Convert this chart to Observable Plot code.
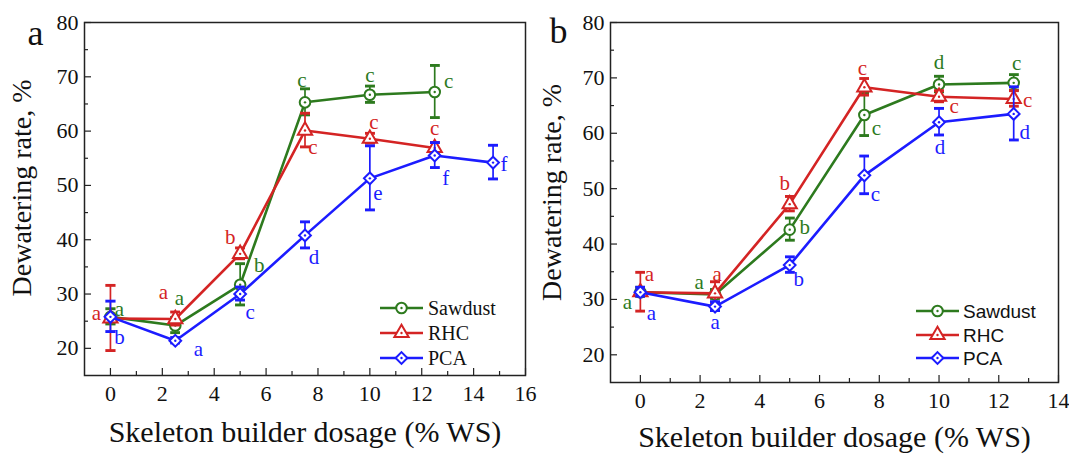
<!DOCTYPE html>
<html><head><meta charset="utf-8">
<script src="https://cdn.jsdelivr.net/npm/d3@7"></script>
<script src="https://cdn.jsdelivr.net/npm/@observablehq/plot@0.6"></script>
<style>
body{margin:0;background:#fff;}
#wrap{position:relative;width:1069px;height:454px;overflow:hidden;background:#fff;}
#wrap svg{position:absolute;top:0;overflow:visible;}
</style></head><body><div id="wrap"></div>
<script>
// ---------- shared ----------
const seriesNames = ["Sawdust", "RHC", "PCA"];
const seriesColors = ["#2d7a1e", "#d42424", "#1c1cff"];
const seriesSymbols = ["circle", "triangle", "diamond2"];
const yMajor = [20, 30, 40, 50, 60, 70, 80];
const yMinor = [25, 35, 45, 55, 65, 75];
const yTitle = "Dewatering rate, %";
const xTitle = "Skeleton builder dosage (% WS)";

// ---------- panel a ----------
const aDose = [0, 2.5, 5, 7.5, 10, 12.5];
const aDosePCA = [0, 2.5, 5, 7.5, 10, 12.5, 14.75];
const aSawdust = [25.8, 24.2, 31.7, 65.3, 66.7, 67.2];
const aSawdustErr = [1.4, 1.4, 3.8, 2.4, 1.5, 4.8];
const aRHC = [25.5, 25.4, 37.4, 60.1, 58.6, 56.9];
const aRHCErr = [6.0, 1.2, 1.0, 3.1, 0.9, 0.9];
const aPCA = [25.8, 21.4, 30.0, 40.8, 51.3, 55.5, 54.2];
const aPCAErr = [2.8, 0.5, 1.2, 2.4, 5.9, 2.3, 3.1];
const aLetSawdust = ["a", "a", "b", "c", "c", "c"];
const aLetRHC = ["a", "a", "b", "c", "c", "c"];
const aLetPCA = ["b", "a", "c", "d", "e", "f", "f"];
const aXMajor = [0, 2, 4, 6, 8, 10, 12, 14, 16];
const aXMinor = [1, 3, 5, 7, 9, 11, 13, 15];
// label offsets (px) relative to each point
const aOffSawdust = [[9,-8],[4,-27],[19,-20],[-3,-22],[0,-19],[14,-11]];
const aOffRHC = [[-14,-5],[-12,-27],[-10,-17],[8,17],[4,-16],[0,-20]];
const aOffPCA = [[9,20],[23,9],[10,18],[9,22],[8,15],[11,23],[11,2]];

// ---------- panel b ----------
const bDose = [0, 2.5, 5, 7.5, 10, 12.5];
const bSawdust = [31.3, 30.9, 42.6, 63.3, 68.8, 69.1];
const bSawdustErr = [0.8, 0.8, 2.0, 3.8, 1.4, 1.4];
const bRHC = [31.3, 31.1, 47.2, 68.3, 66.6, 66.2];
const bRHCErr = [3.5, 2.0, 1.3, 1.5, 1.0, 1.4];
const bPCA = [31.3, 28.7, 36.2, 52.4, 62.0, 63.5];
const bPCAErr = [0.8, 0.8, 1.4, 3.4, 2.4, 4.8];
const bLetSawdust = ["a", "a", "b", "c", "d", "c"];
const bLetRHC = ["a", "a", "b", "c", "c", "c"];
const bLetPCA = ["a", "a", "b", "c", "d", "d"];
const bXMajor = [0, 2, 4, 6, 8, 10, 12, 14];
const bXMinor = [1, 3, 5, 7, 9, 11, 13];
const bOffSawdust = [[-13,10],[-16,-12],[15,-2],[12,13],[0,-22],[3,-20]];
const bOffRHC = [[9,-18],[2,-19],[-5,-21],[-2,-19],[15,10],[14,1]];
const bOffPCA = [[11,21],[0,16],[9,14],[11,19],[1,25],[11,18]];

function rowsOf(series, xs, ys, errs, lets, offs) {
  return xs.map((x, i) => ({series, x, y: ys[i], e: errs[i], letter: lets[i], dx: offs[i][0], dy: offs[i][1]}));
}

const serif = "'Liberation Serif', 'Times New Roman', serif";
const sans = "'Liberation Sans', Arial, sans-serif";

function panel(cfg) {
  const {rows, width, height, m, xDomain, xMajor, xMinor, letter, letterDx, letterDy, yDx, yDy, xDy} = cfg;
  const plotW = width - m.left - m.right;
  const plotH = height - m.top - m.bottom;
  const marks = [];
  // ticks (inward)
  marks.push(Plot.tickX(xMajor, {x: d => d, insetTop: plotH - 7, stroke: "#222", strokeWidth: 1.2}));
  marks.push(Plot.tickX(xMinor, {x: d => d, insetTop: plotH - 4, stroke: "#222", strokeWidth: 1.2}));
  marks.push(Plot.tickY(yMajor, {y: d => d, insetRight: plotW - 7, stroke: "#222", strokeWidth: 1.2}));
  marks.push(Plot.tickY(yMinor, {y: d => d, insetRight: plotW - 4, stroke: "#222", strokeWidth: 1.2}));
  marks.push(Plot.axisX({ticks: xMajor, tickSize: 0, tickPadding: 10, fontSize: 22, fontFamily: serif, label: null, fill: "#111"}));
  marks.push(Plot.axisY({ticks: yMajor, tickSize: 0, tickPadding: 6, fontSize: 22, fontFamily: serif, label: null, fill: "#111"}));
  // series
  for (const name of seriesNames) {
    const r = rows.filter(d => d.series === name);
    marks.push(Plot.line(r, {x: "x", y: "y", stroke: "series", strokeWidth: 2.6}));
    marks.push(Plot.ruleX(r, {x: "x", y1: d => d.y - d.e, y2: d => d.y + d.e, stroke: "series", strokeWidth: 1.7, markerStart: "tick", markerEnd: "tick"}));
    marks.push(Plot.dot(r, {x: "x", y: "y", symbol: "series", stroke: "series", fill: "white", r: 5.3, strokeWidth: 2}));
    marks.push(Plot.dot(r, {x: "x", y: "y", fill: "series", r: 1.2}));
  }
  for (const d of rows) {
    marks.push(Plot.text([d], {x: "x", y: "y", text: "letter", fill: "series", dx: d.dx, dy: d.dy, fontSize: 21, fontFamily: serif}));
  }
  marks.push(Plot.frame({stroke: "#222", strokeWidth: 1.5}));
  // titles
  marks.push(Plot.text([xTitle], {text: d => d, frameAnchor: "bottom", textAnchor: "middle", lineAnchor: "middle", dy: xDy, fontSize: 30, fontFamily: serif, fill: "#111"}));
  marks.push(Plot.text([yTitle], {text: d => d, frameAnchor: "left", textAnchor: "middle", lineAnchor: "middle", rotate: -90, dx: yDx, dy: yDy, fontSize: 28, fontFamily: serif, fill: "#111"}));
  marks.push(Plot.text([letter], {text: d => d, frameAnchor: "top-left", textAnchor: "middle", lineAnchor: "middle", dx: letterDx, dy: letterDy, fontSize: 36, fontFamily: serif, fill: "#111"}));
  return Plot.plot({
    width, height,
    marginLeft: m.left, marginRight: m.right, marginTop: m.top, marginBottom: m.bottom,
    x: {domain: xDomain},
    y: {domain: [15, 80]},
    color: {domain: seriesNames, range: seriesColors},
    symbol: {domain: seriesNames, range: seriesSymbols},
    style: {background: "transparent", fontFamily: serif, color: "#111"},
    marks
  });
}

function addLegend(svg, x0, x1, tx, ys, font, size) {
  const g = d3.select(svg).append("g");
  const symMap = {circle: d3.symbolCircle, triangle: d3.symbolTriangle, diamond2: d3.symbolDiamond2};
  seriesNames.forEach((name, i) => {
    const y = ys[i], c = seriesColors[i], cx = (x0 + x1) / 2;
    g.append("line").attr("x1", x0).attr("x2", x1).attr("y1", y).attr("y2", y).attr("stroke", c).attr("stroke-width", 2.6);
    g.append("path").attr("d", d3.symbol(symMap[seriesSymbols[i]], Math.PI * 5.3 * 5.3)()).attr("transform", `translate(${cx},${y})`)
      .attr("fill", "white").attr("stroke", c).attr("stroke-width", 2);
    g.append("circle").attr("cx", cx).attr("cy", y).attr("r", 1.2).attr("fill", c);
    g.append("text").attr("x", tx).attr("y", y).attr("dy", "0.35em").attr("text-anchor", "start")
      .attr("font-family", font).attr("font-size", size).attr("fill", "#111").text(name);
  });
}

const wrap = document.getElementById("wrap");

const rowsA = [
  ...rowsOf("Sawdust", aDose, aSawdust, aSawdustErr, aLetSawdust, aOffSawdust),
  ...rowsOf("RHC", aDose, aRHC, aRHCErr, aLetRHC, aOffRHC),
  ...rowsOf("PCA", aDosePCA, aPCA, aPCAErr, aLetPCA, aOffPCA)
];
const svgA = panel({rows: rowsA, width: 540, height: 454, m: {left: 84, right: 15, top: 22, bottom: 79},
  xDomain: [-1, 16], xMajor: aXMajor, xMinor: aXMinor, letter: "a", letterDx: -49, letterDy: 11,
  yDx: -62, yDy: -11, xDy: 57});
svgA.style.left = "0px";
wrap.appendChild(svgA);
addLegend(svgA, 380, 423, 428, [308, 333, 358], serif, 20);

const rowsB = [
  ...rowsOf("Sawdust", bDose, bSawdust, bSawdustErr, bLetSawdust, bOffSawdust),
  ...rowsOf("RHC", bDose, bRHC, bRHCErr, bLetRHC, bOffRHC),
  ...rowsOf("PCA", bDose, bPCA, bPCAErr, bLetPCA, bOffPCA)
];
const svgB = panel({rows: rowsB, width: 539, height: 454, m: {left: 80, right: 11, top: 22, bottom: 72},
  xDomain: [-1, 14], xMajor: bXMajor, xMinor: bXMinor, letter: "b", letterDx: -52, letterDy: 9,
  yDx: -58, yDy: -10, xDy: 55});
svgB.style.left = "530px";
wrap.appendChild(svgB);
addLegend(svgB, 386, 429, 433, [311, 335, 358], sans, 19);
</script></body></html>
